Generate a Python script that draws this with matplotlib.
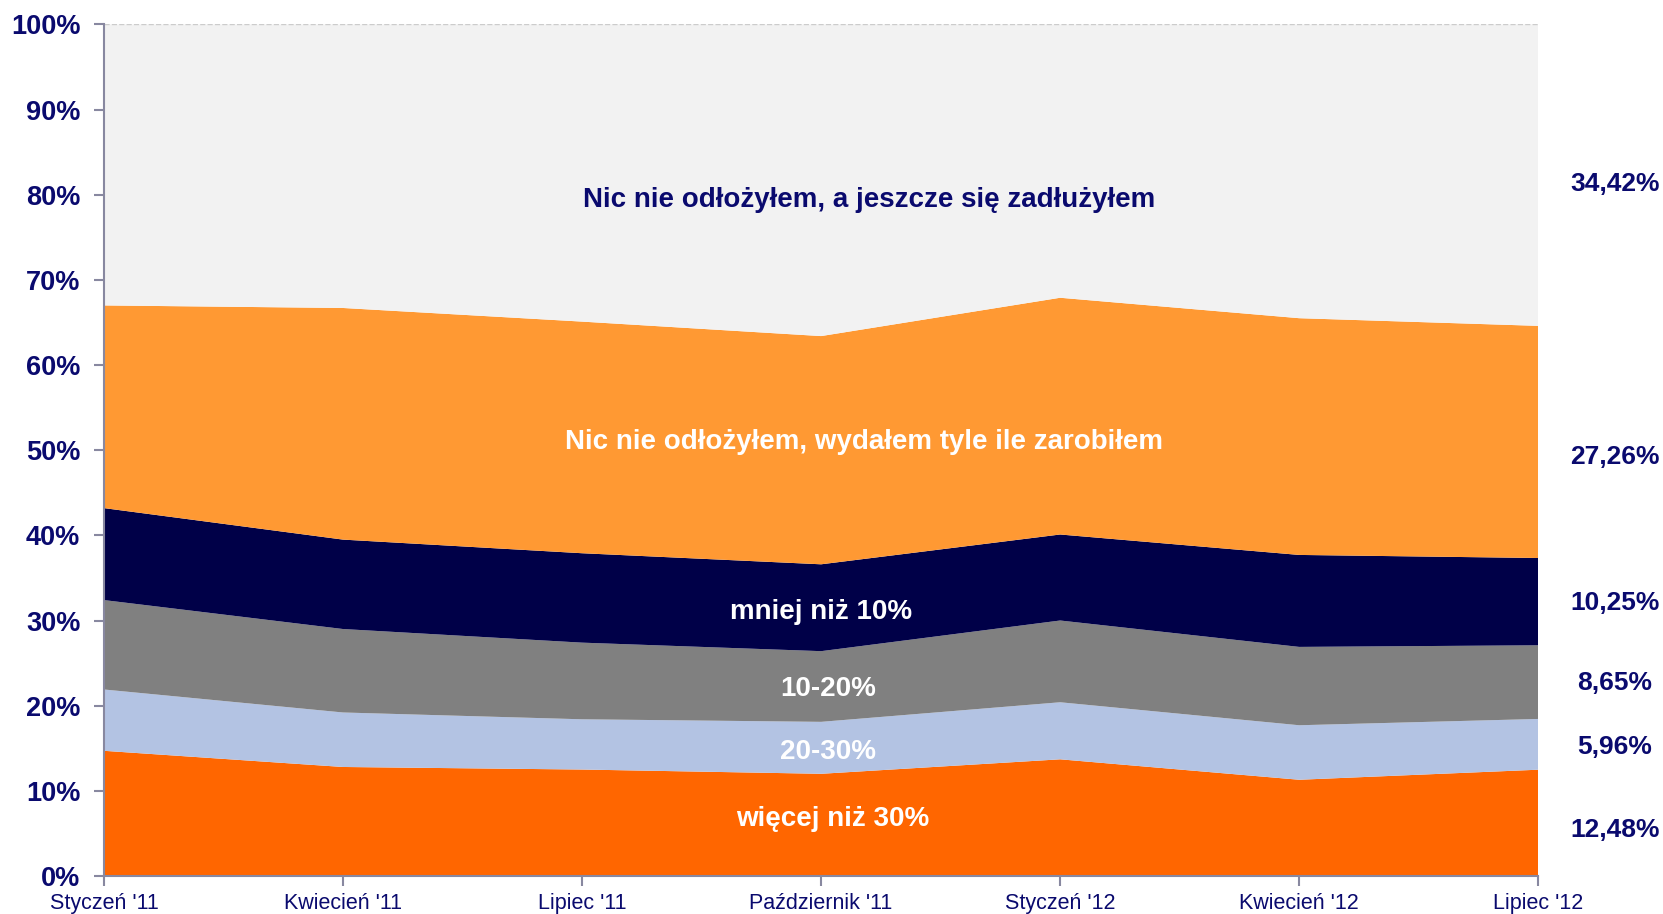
import numpy as np
import matplotlib.pyplot as plt

plt.rcParams['font.family'] = ['Liberation Sans', 'DejaVu Sans']

months = ["Styczeń '11", "Kwiecień '11", "Lipiec '11", "Październik '11",
          "Styczeń '12", "Kwiecień '12", "Lipiec '12"]

# shares in %, bottom to top
wiecej_30 = [14.7, 12.8, 12.5, 12.0, 13.7, 11.3, 12.48]
od_20_30 = [7.2, 6.4, 5.9, 6.1, 6.7, 6.4, 5.96]
od_10_20 = [10.5, 9.8, 9.0, 8.3, 9.6, 9.2, 8.65]
mniej_10 = [10.8, 10.5, 10.5, 10.2, 10.1, 10.8, 10.25]
wydalem = [23.8, 27.2, 27.2, 26.8, 27.8, 27.8, 27.26]
zadluzylem = [100 - sum(v) for v in zip(wiecej_30, od_20_30, od_10_20, mniej_10, wydalem)]

layer_names = ["więcej niż 30%", "20-30%", "10-20%", "mniej niż 10%",
               "Nic nie odłożyłem, wydałem tyle ile zarobiłem",
               "Nic nie odłożyłem, a jeszcze się zadłużyłem"]
last_labels = ["12,48%", "5,96%", "8,65%", "10,25%", "27,26%", "34,42%"]

colors = ['#FF6600', '#B3C3E3', '#808080', '#000048', '#FF9933', '#F2F2F2']
navy = '#0A0A6E'

x = np.arange(len(months))
fig = plt.figure(figsize=(16.63, 9.14), dpi=100)
ax = fig.add_axes([0.0625, 0.0416, 0.8625, 0.9317])

ax.stackplot(x, wiecej_30, od_20_30, od_10_20, mniej_10, wydalem, zadluzylem,
             colors=colors, linewidth=0)
ax.axhline(100, color='#CCCCCC', linestyle='--', linewidth=1)

ax.set_xlim(0, len(months) - 1)
ax.set_ylim(0, 100)
ax.set_yticks(range(0, 101, 10))
ax.set_yticklabels([f"{v}%" for v in range(0, 101, 10)], fontsize=19.5,
                   fontweight='bold', color=navy)
ax.set_xticks(x)
ax.set_xticklabels(months, fontsize=15.5, color=navy)
ax.tick_params(axis='both', color='#8888A0', length=7, width=1.5)
ax.tick_params(axis='y', pad=10)
ax.tick_params(axis='x', pad=5)
for s in ['top', 'right']:
    ax.spines[s].set_visible(False)
for s in ['left', 'bottom']:
    ax.spines[s].set_color('#8888A0')
    ax.spines[s].set_linewidth(1.5)

# labels inside the areas
inner_pos = [(3.05, 6.7), (3.03, 14.6), (3.03, 21.9), (3.0, 31.0), (3.18, 51.0), (3.2, 79.4)]
inner_colors = ['white', 'white', 'white', 'white', 'white', navy]
for name, (px, py), c in zip(layer_names, inner_pos, inner_colors):
    ax.text(px, py, name, ha='center', va='center', fontsize=20,
            fontweight='bold', color=c)

# values for the last month on the right
right_y = [5.4, 15.1, 22.7, 32.0, 49.2, 81.3]
for lab, py in zip(last_labels, right_y):
    ax.text(6.32, py, lab, ha='center', va='center', fontsize=19,
            fontweight='bold', color=navy, clip_on=False)

fig.savefig('out.png', dpi=100)
